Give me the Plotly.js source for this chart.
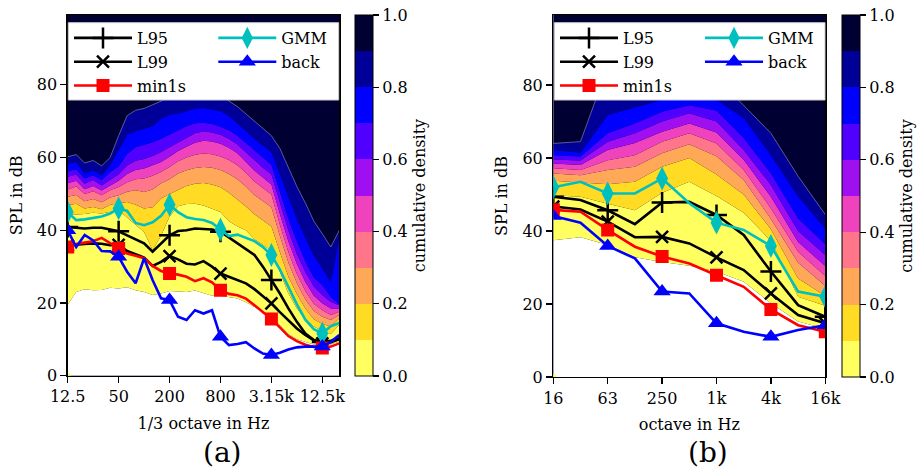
<!DOCTYPE html>
<html><head><meta charset="utf-8">
<script src="https://cdn.plot.ly/plotly-3.0.1.min.js"></script>
<style>html,body{margin:0;padding:0;background:#fff}</style>
</head><body><div id="chart" style="width:923px;height:468px"></div>
<script>
// ---------- data: panel (a) 1/3 octave ----------
const bandsA = ["12.5","16","20","25","31.5","40","50","63","80","100","125","160","200","250","315","400","500","630","800","1k","1.25k","1.6k","2k","2.5k","3.15k","4k","5k","6.3k","8k","10k","12.5k","16k","20k"];
const ticksA = ["12.5","50","200","800","3.15k","12.5k"];
const L95a   = [40.9,40.7,40.5,40.7,40.7,40.2,39.7,38.6,37.5,36.4,34.1,36.4,38.6,39.8,40.0,40.5,40.3,40.2,39.6,38.0,36.4,35.0,33.2,30.0,26.3,22.6,18.5,14.8,11.6,9.8,9.3,9.6,10.3];
const L99a   = [35.8,35.9,36.2,36.4,36.3,35.9,36.0,34.3,33.5,32.5,30.2,31.3,32.9,32.0,30.8,30.6,31.5,30.0,28.1,27.2,26.3,25.4,23.8,21.8,19.9,17.5,15.2,13.0,11.2,9.7,8.9,9.2,10.0];
const min1sa = [35.4,36.2,36.6,37.0,37.9,36.5,35.0,33.6,33.0,32.3,30.2,28.8,28.1,27.8,27.2,26.0,26.8,25.7,23.5,22.5,22.1,21.2,19.4,17.6,15.6,13.3,10.9,9.5,8.5,7.9,7.6,8.0,8.9];
const GMMa   = [45.0,42.8,43.0,43.5,43.8,44.6,46.0,45.3,42.0,41.4,42.2,44.0,47.0,45.0,43.6,43.1,42.8,42.0,40.2,38.4,38.8,37.9,37.0,35.4,33.2,29.2,24.5,19.6,15.4,12.8,11.6,13.6,14.5];
const backa  = [40.0,35.4,38.7,37.2,34.3,34.2,32.7,28.6,25.4,32.3,26.3,21.3,20.8,16.2,15.3,18.0,17.1,18.0,10.7,8.4,8.7,9.2,7.5,6.1,5.7,6.3,7.2,7.8,8.0,8.0,8.0,9.3,11.2];
// SPL where the cumulative density reaches 0.0, 0.1, ... 0.9
const q0a = [19.5,23.0,23.8,23.5,23.6,24.2,24.0,24.3,23.5,23.0,22.2,22.6,23.3,23.1,23.0,23.4,22.8,22.0,22.0,21.5,21.2,20.2,18.8,17.6,16.3,13.8,11.5,10.0,9.2,8.6,8.2,8.6,9.4];
const q1a = [44.5,44.3,44.5,44.8,44.6,45.0,45.5,43.5,41.5,39.5,34.5,38.5,43.8,46.6,47.2,47.3,46.8,46.0,45.0,42.5,41.0,40.0,37.5,36.0,34.3,28.5,22.6,18.5,15.5,13.5,12.3,11.5,14.0];
const q2a = [46.9,47.3,46.0,46.4,45.8,47.0,47.4,47.8,47.0,46.0,46.3,48.7,50.0,51.2,52.2,52.8,53.0,52.6,51.8,50.3,48.5,46.5,44.4,42.7,41.0,34.0,27.2,22.5,18.5,15.5,14.2,13.5,15.8];
const q3a = [49.2,49.7,48.0,48.6,47.7,49.0,49.6,50.6,51.0,50.5,51.2,52.9,54.0,55.6,56.5,57.1,57.4,57.2,56.6,55.5,54.0,52.0,49.7,48.0,46.3,38.5,31.1,25.5,21.0,17.8,16.2,15.3,16.7];
const q4a = [51.2,52.0,50.0,50.7,49.6,51.0,51.9,53.2,54.0,54.2,55.0,56.0,57.4,59.0,60.0,60.8,61.1,60.9,60.3,59.3,57.9,55.8,53.4,51.6,49.8,41.5,34.0,28.0,23.3,19.8,18.0,16.7,17.6];
const q5a = [52.9,53.6,51.3,52.2,50.9,52.3,53.6,55.5,56.6,57.0,57.8,58.8,60.2,61.8,63.0,64.1,64.6,64.4,63.8,62.7,61.2,58.9,56.4,54.5,52.6,44.5,37.0,30.8,25.8,22.0,19.9,18.5,18.5];
const q6a = [54.7,55.3,52.8,53.8,52.3,53.8,55.4,57.8,59.1,59.6,60.4,61.5,62.8,64.3,65.6,66.7,67.2,66.9,66.3,65.2,63.6,61.5,59.2,57.2,55.3,47.5,40.0,33.5,28.5,24.5,22.2,20.3,19.4];
const q7a = [56.3,56.8,54.2,55.1,53.8,56.0,57.5,61.0,62.8,63.5,64.2,65.2,66.3,67.5,68.6,69.4,69.6,69.2,68.5,67.5,66.0,64.0,61.9,60.0,58.0,50.5,43.2,37.0,31.5,27.0,24.9,21.7,19.5];
const q8a = [58.3,58.8,55.6,56.5,55.1,57.9,62.0,66.3,67.2,67.8,68.6,70.7,71.8,72.1,72.8,73.4,73.6,73.3,72.8,71.5,69.5,67.3,65.2,63.3,61.5,55.5,49.0,43.0,38.0,33.0,29.5,25.8,38.0];
const q9a = [60.2,60.8,58.5,59.2,57.7,60.0,66.0,71.5,73.0,73.5,74.5,75.5,77.0,78.0,79.0,80.0,80.0,80.0,79.0,75.5,74.0,72.0,70.0,68.0,66.0,62.5,57.0,52.0,47.5,42.5,39.0,35.4,40.0];

// ---------- data: panel (b) octave ----------
const bandsB = ["16","31.5","63","125","250","500","1k","2k","4k","8k","16k"];
const ticksB = ["16","63","250","1k","4k","16k"];
const L95b   = [49.4,48.5,45.7,41.9,47.8,48.0,44.4,38.9,28.9,19.7,16.5];
const L99b   = [46.7,45.9,42.6,38.3,38.4,36.6,32.8,29.3,22.9,17.0,14.7];
const min1sb = [45.8,45.3,40.3,35.7,33.0,31.1,27.9,24.7,18.5,14.2,12.4];
const GMMb   = [52.0,53.5,50.3,50.3,54.4,47.6,42.3,40.3,35.9,23.4,22.0];
const backb  = [44.1,42.3,35.9,32.5,23.4,22.9,14.7,12.4,11.0,12.9,14.2];
const q0b = [37.5,38.3,36.2,32.8,31.5,30.5,28.9,26.1,20.2,15.2,13.2];
const q1b = [49.8,49.4,47.5,45.7,50.5,53.5,49.6,45.0,37.3,22.0,19.5];
const q2b = [53.8,53.3,52.8,53.5,57.6,60.0,55.5,50.0,40.5,27.0,22.2];
const q3b = [55.8,55.3,56.7,57.6,61.3,63.8,60.5,54.0,43.3,31.3,25.0];
const q4b = [57.2,56.7,59.4,60.8,64.5,66.8,64.0,56.7,46.2,34.3,27.7];
const q5b = [58.5,58.1,62.2,64.1,67.2,69.5,67.0,59.5,49.4,37.0,30.4];
const q6b = [59.6,59.3,64.5,66.8,70.0,72.3,70.0,62.2,52.6,40.0,33.4];
const q7b = [60.8,60.4,66.8,69.5,72.7,74.5,73.0,65.5,55.8,43.5,36.4];
const q8b = [62.2,61.5,71.8,73.8,76.0,77.5,76.0,71.0,60.8,49.5,40.7];
const q9b = [64.0,64.5,85.0,88.0,90.0,88.0,82.0,74.5,66.8,55.0,44.5];

const densityTicks = [0,0.2,0.4,0.6,0.8,1.0];
const levelColors = ['#ffff60','#ffdb24','#ffa857','#ff758a','#ef42bd','#9f0ff0','#5000ff','#0000ff','#000099','#000033'];

// ---------- build ----------
const W = 923, H = 468;
const px = v => v / W, py = v => 1 - v / H;
const FONT = 'DejaVu Serif';
const FS = 16;

function fillTraces(x, qs, xa, ya) {
  return qs.map((q, k) => ({
    type:'scatter', mode:'lines', x:x, y:q, xaxis:xa, yaxis:ya,
    line:{width: k === 9 ? 0.7 : 0, color: k === 9 ? 'rgba(150,150,185,0.85)' : 'rgba(0,0,0,0)'},
    fill: k === 0 ? 'tozeroy' : 'tonexty',
    fillcolor: k === 0 ? '#ffffff' : levelColors[k - 1],
    showlegend:false, hoverinfo:'skip'
  }));
}

const series = [
  {name:'L95',   a:L95a,   b:L95b,   color:'#000000', symbol:'cross-thin',   size:15, thin:true, col:1},
  {name:'L99',   a:L99a,   b:L99b,   color:'#000000', symbol:'x-thin',       size:12, thin:true, col:1},
  {name:'min1s', a:min1sa, b:min1sb, color:'#ff0000', symbol:'square',       size:13, col:1},
  {name:'GMM',   a:GMMa,   b:GMMb,   color:'#00bfbf', symbol:'diamond-tall', size:17, col:2},
  {name:'back',  a:backa,  b:backb,  color:'#0000ff', symbol:'triangle-up',  size:15, col:2}
];

function markerOf(s, size) {
  return {symbol:s.symbol, size:size, color:s.color, opacity:1, sizemode:'diameter', sizeref:1,
          line:{width: s.thin ? 2.5 : 0, color:s.color}};
}

function seriesTraces(panel) {
  const x = panel === 'a' ? bandsA : bandsB;
  const every = panel === 'a' ? 6 : 2;
  const xa = panel === 'a' ? 'x' : 'x2', ya = panel === 'a' ? 'y' : 'y2';
  const out = [];
  series.forEach(s => {
    const y = s[panel];
    const sizes = y.map((_, i) => (i % every === 0 ? s.size : 0));
    out.push({type:'scatter', mode:'lines+markers', x:x, y:y, xaxis:xa, yaxis:ya,
      line:{color:s.color, width:2.6}, marker:markerOf(s, sizes),
      showlegend:false, hoverinfo:'skip'});
  });
  // legend entries
  series.forEach(s => {
    const lg = panel === 'a' ? (s.col === 1 ? 'legend' : 'legend2') : (s.col === 1 ? 'legend3' : 'legend4');
    out.push({type:'scatter', mode:'lines+markers', x:[null], y:[null], xaxis:xa, yaxis:ya,
      name:s.name, legend:lg, line:{color:s.color, width:2.6}, marker:markerOf(s, s.size),
      showlegend:true, hoverinfo:'skip'});
  });
  return out;
}

const cs = [];
levelColors.forEach((c, k) => { cs.push([k / 10, c]); cs.push([(k + 1) / 10, c]); });

function colorbarTrace(panel, x0, top, bottom) {
  const x = panel === 'a' ? bandsA : bandsB;
  return {type:'scatter', mode:'markers', x:[x[0]], y:[0],
    xaxis: panel === 'a' ? 'x' : 'x2', yaxis: panel === 'a' ? 'y' : 'y2',
    marker:{size:0, color:[0], cmin:0, cmax:1, colorscale:cs, showscale:true,
      colorbar:{x:px(x0), xanchor:'left', y:py(top), yanchor:'top',
        len:(bottom - top) / H, lenmode:'fraction', thickness:18, thicknessmode:'pixels',
        xpad:0, ypad:0, outlinewidth:1, outlinecolor:'#000', borderwidth:0,
        ticks:'outside', ticklen:6, tickwidth:1.2, tickcolor:'#000',
        tickmode:'array', tickvals:densityTicks, tickformat:'.1f',
        tickfont:{size:FS, family:FONT, color:'#000'},
        title:{text:'cumulative density', side:'right', font:{size:FS, family:FONT, color:'#000'}}}},
    showlegend:false, hoverinfo:'skip'};
}

const traces = [].concat(
  fillTraces(bandsA, [q0a,q1a,q2a,q3a,q4a,q5a,q6a,q7a,q8a,q9a], 'x', 'y'),
  fillTraces(bandsB, [q0b,q1b,q2b,q3b,q4b,q5b,q6b,q7b,q8b,q9b], 'x2', 'y2'),
  seriesTraces('a'), seriesTraces('b'),
  [colorbarTrace('a', 355, 15, 375.7), colorbarTrace('b', 841.7, 15, 377)]
);

function xaxisOf(dom, cats, ticks, title, anchor) {
  return {domain:dom, anchor:anchor, type:'category', categoryorder:'array', categoryarray:cats,
    range:[0, cats.length - 1], tickmode:'array', tickvals:ticks, ticktext:ticks,
    ticks:'outside', ticklen:6, tickwidth:1.2, tickcolor:'#000',
    showline:true, linecolor:'#000', linewidth:1.3, mirror:true,
    showgrid:false, zeroline:false, automargin:false, fixedrange:true,
    tickfont:{size:FS, family:FONT, color:'#000'},
    title:{text:title, font:{size:FS, family:FONT, color:'#000'}, standoff:12}};
}
function yaxisOf(dom, anchor) {
  return {domain:dom, anchor:anchor, range:[0, 99.2], tickmode:'array', tickvals:[0,20,40,60,80],
    ticks:'outside', ticklen:6, tickwidth:1.2, tickcolor:'#000',
    showline:true, linecolor:'#000', linewidth:1.3, mirror:true,
    showgrid:false, zeroline:false, automargin:false, fixedrange:true,
    tickfont:{size:FS, family:FONT, color:'#000'},
    title:{text:'SPL in dB', font:{size:FS, family:FONT, color:'#000'}, standoff:10}};
}

function legendOf(xLeft) {
  return {x:px(xLeft), y:py(21), xanchor:'left', yanchor:'top', orientation:'v',
    traceorder:'normal', bgcolor:'rgba(0,0,0,0)', borderwidth:0, itemwidth:58, tracegroupgap:0,
    font:{size:FS, family:FONT, color:'#000'}};
}

const layout = {
  width:W, height:H, margin:{l:0, r:0, t:0, b:0},
  paper_bgcolor:'#ffffff', plot_bgcolor:'#000033',
  font:{family:FONT, color:'#000', size:FS},
  xaxis: xaxisOf([px(67.7), px(339.3)], bandsA, ticksA, '1/3 octave in Hz', 'y'),
  yaxis: yaxisOf([1 - 375.7 / H, py(15)], 'x'),
  xaxis2: xaxisOf([px(553.3), px(825.3)], bandsB, ticksB, 'octave in Hz', 'y2'),
  yaxis2: yaxisOf([1 - 377 / H, py(15)], 'x2'),
  legend: legendOf(69), legend2: legendOf(213.3),
  legend3: legendOf(555), legend4: legendOf(700),
  shapes: [
    {type:'rect', xref:'paper', yref:'paper', x0:px(68.3), x1:px(338.7), y0:py(100), y1:py(22.7),
     fillcolor:'#ffffff', line:{color:'#cccccc', width:1}, layer:'above'},
    {type:'rect', xref:'paper', yref:'paper', x0:px(554.3), x1:px(825), y0:py(100), y1:py(22.7),
     fillcolor:'#ffffff', line:{color:'#cccccc', width:1}, layer:'above'}
  ],
  annotations: [
    {text:'(a)', xref:'paper', yref:'paper', x:px(222.7), y:py(452), xanchor:'center', yanchor:'middle',
     showarrow:false, font:{size:28, family:FONT, color:'#000'}},
    {text:'(b)', xref:'paper', yref:'paper', x:px(708), y:py(452), xanchor:'center', yanchor:'middle',
     showarrow:false, font:{size:28, family:FONT, color:'#000'}}
  ],
  showlegend:true
};

Plotly.newPlot('chart', traces, layout, {staticPlot:true, displayModeBar:false});
</script>
</body></html>
